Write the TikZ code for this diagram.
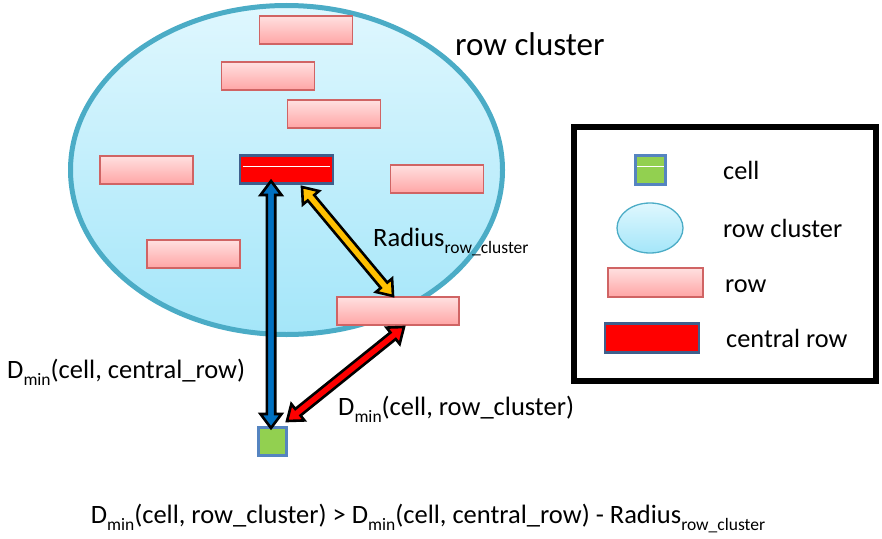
\documentclass[tikz,border=0pt]{standalone}
\usepackage{fontspec}
\setmainfont{Carlito}
\usetikzlibrary{calc,shapes.geometric}
\definecolor{clBorder}{HTML}{4BACC6}
\definecolor{clTop}{HTML}{DFF7FE}
\definecolor{clBot}{HTML}{A4E6F9}
\definecolor{rowTop}{HTML}{FFE0E0}
\definecolor{rowBot}{HTML}{FFA5A5}
\definecolor{rowEdge}{HTML}{D06464}
\definecolor{centEdge}{HTML}{3F5F8C}
\definecolor{cellFill}{HTML}{92D050}
\definecolor{cellEdge}{HTML}{5584C0}
\definecolor{arBlue}{HTML}{0070C0}
\definecolor{arGold}{HTML}{FFC000}
\definecolor{arRed}{HTML}{FF0000}
\newcommand{\blockarrow}[3]{%
  \filldraw[draw=black, line width=2.6, line join=miter, fill=#3]
    (#1) -- ($(#1)!14pt!(#2)!10.5pt!90:(#2)$) -- ($(#1)!14pt!(#2)!4.2pt!90:(#2)$)
    -- ($(#2)!14pt!(#1)!4.2pt!-90:(#1)$) -- ($(#2)!14pt!(#1)!10.5pt!-90:(#1)$)
    -- (#2) -- ($(#2)!14pt!(#1)!10.5pt!90:(#1)$) -- ($(#2)!14pt!(#1)!4.2pt!90:(#1)$)
    -- ($(#1)!14pt!(#2)!4.2pt!-90:(#2)$) -- ($(#1)!14pt!(#2)!10.5pt!-90:(#2)$) -- cycle;}
\newcommand{\sbs}[1]{\raisebox{-0.3em}{\fontsize{17.5}{20}\selectfont #1}}
\tikzset{
  rowbox/.style={rectangle, minimum width=93, minimum height=28, inner sep=0,
    top color=rowTop, bottom color=rowBot, draw=rowEdge, line width=1.3},
  centralbox/.style={rectangle, minimum width=93, minimum height=28, inner sep=0,
    fill=arRed, draw=centEdge, line width=2.8},
  cellbox/.style={rectangle, minimum width=28, minimum height=28, inner sep=0,
    fill=cellFill, draw=cellEdge, line width=2.6},
  bigtxt/.style={font=\fontsize{33}{38}\selectfont, inner sep=0},
  legtxt/.style={font=\fontsize{26.3}{30}\selectfont, inner sep=0, anchor=west},
  lbl/.style={font=\fontsize{26.5}{30}\selectfont, inner sep=0, anchor=base west},
}
\begin{document}
\begin{tikzpicture}[x=1pt, y=-1pt]
\useasboundingbox (0,0) rectangle (882,538);
% cluster ellipse
\node[ellipse, draw=clBorder, line width=5, top color=clTop, bottom color=clBot,
  minimum width=432, minimum height=329, inner sep=0] (cluster) at (286.5,170) {};
\node[bigtxt, anchor=west] (clusterlbl) at (455,44) {row cluster};
% rows
\node[rowbox] (r1) at (306,30) {};
\node[rowbox] (r2) at (268,76) {};
\node[rowbox] (r3) at (334,114) {};
\node[rowbox] (r4) at (146.5,170) {};
\node[rowbox] (r5) at (437,179) {};
\node[rowbox] (r6) at (193.5,254) {};
\node[rowbox, minimum width=122] (r7) at (398,311) {};
\node[centralbox] (central) at (286.5,169.5) {};
\draw[white, line width=1] ($(central.west)+(4,-3.5)$) -- ($(central.east)+(-4,-3.5)$);
% cell
\node[cellbox] (cell) at (272.5,441.5) {};
% arrow end points
\coordinate (bA) at (271,181);
\coordinate (bB) at (271,428);
\coordinate (yA) at (302,187);
\coordinate (yB) at (393,296);
\coordinate (rA) at (287,421);
\coordinate (rB) at (404,327);
\blockarrow{bA}{bB}{arBlue}
\blockarrow{yA}{yB}{arGold}
\blockarrow{rA}{rB}{arRed}
% labels
\node[lbl] (radlbl) at (373,246) {Radius\sbs{row\_cluster}};
\node[lbl] (dcent) at (7,378) {D\sbs{min}(cell, central\_row)};
\node[lbl] (dclus) at (338,415) {D\sbs{min}(cell, row\_cluster)};
\node[lbl, anchor=base] (formula) at (428,523) {D\sbs{min}(cell, row\_cluster) {>} D\sbs{min}(cell, central\_row) - Radius\sbs{row\_cluster}};
% legend
\node[rectangle, draw=black, line width=6, minimum width=302, minimum height=254, inner sep=0] (legend) at (725,254) {};
\node[cellbox, minimum width=30, minimum height=29] (lcell) at (650.5,170) {};
\draw[white, line width=1] ($(lcell.west)+(3,-3.5)$) -- ($(lcell.east)+(-3,-3.5)$);
\node[ellipse, draw=clBorder, line width=1.3, top color=clTop, bottom color=clBot,
  minimum width=66, minimum height=50, inner sep=0] (lclus) at (650,228) {};
\node[rowbox, minimum width=95, minimum height=29] (lrow) at (655.5,282.5) {};
\node[centralbox, minimum width=94, minimum height=29] (lcent) at (652,338) {};
\node[legtxt] (tcell) at (723,170) {cell};
\node[legtxt] (tclus) at (723,228) {row cluster};
\node[legtxt] (trow) at (725,286) {row};
\node[legtxt] (tcent) at (726,338) {central row};
\end{tikzpicture}
\end{document}
